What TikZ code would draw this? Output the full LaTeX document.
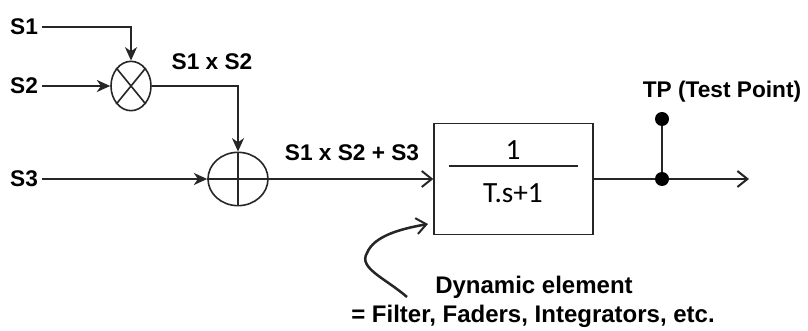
\documentclass[tikz,border=0pt]{standalone}
\usepackage{fontspec}
\setmainfont{Liberation Sans}
\newfontfamily\boxfont{Carlito}
\usetikzlibrary{shapes.geometric,arrows.meta}
\begin{document}
\begin{tikzpicture}[x=0.75pt,y=-0.75pt,
  wire/.style={line width=1.2pt,draw=black!85},
  fa/.style={wire,-{Stealth[length=10pt,width=9pt,inset=3pt]}},
  ba/.style={wire,-{Straight Barb[length=7.5pt,width=12pt,line width=1.5pt]}},
  lbl/.style={font=\bfseries\fontsize{17}{19}\selectfont,inner sep=3pt},
  big/.style={font=\bfseries\fontsize{18}{20}\selectfont,inner sep=2pt},
  circ/.style={ellipse,draw=black!85,line width=1.2pt,inner sep=0pt},
  dotn/.style={circle,fill=black,inner sep=0pt,minimum size=10.5pt}]
\useasboundingbox (0,0) rectangle (808,331);
% inputs
\node[lbl] (s1) at (24,27) {S1};
\node[lbl] (s2) at (24,86) {S2};
\node[lbl] (s3) at (24,179) {S3};
\node[circ,minimum width=30pt,minimum height=37pt] (mul) at (131,86) {};
\draw[wire] (mul.north east) -- (mul.south west) (mul.north west) -- (mul.south east);
\node[circ,minimum width=45pt,minimum height=40pt] (sum) at (238,179) {};
\draw[wire] (sum.west) -- (sum.east) (sum.north) -- (sum.south);
\node[draw=black!85,line width=1.2pt,minimum width=119pt,minimum height=83pt,inner sep=0pt] (blk) at (513.5,179) {};
\coordinate (fl) at (449,166);
\coordinate (fr) at (578,166);
\draw[wire] (fl) -- (fr);
\node[font=\boxfont\fontsize{22}{24}\selectfont] (num) at (513,150) {1};
\node[font=\boxfont\fontsize{22}{24}\selectfont] (den) at (513,193) {T.s+1};
% connections
\draw[fa] (s1.east) -| (mul.north);
\draw[fa] (s2.east) -- (mul.west);
\draw[fa] (mul.east) -| (sum.north);
\draw[fa] (s3.east) -- (sum.west);
\draw[ba] (sum.east) -- (blk.west);
\node[lbl] (l12) at (212,62) {S1 x S2};
\node[lbl] (l123) at (352,153) {S1 x S2 + S3};
% output
\node[dotn] (tpd) at (662,179) {};
\node[dotn] (tpt) at (662,119) {};
\coordinate (oend) at (749,179);
\draw[wire] (blk.east) -- (tpd);
\draw[ba] (tpd) -- (oend);
\draw[wire,line width=1.8pt] (tpd) -- (tpt);
\node[lbl] (tp) at (722,92) {TP (Test Point)};
% annotation
\coordinate (cs) at (407,297);
\coordinate (cm) at (367,253);
\coordinate (ce) at (428,224);
\draw[ba,line width=1.9pt] (cs) .. controls (385,278) and (358,268) .. (cm) .. controls (374,236) and (400,229) .. (ce);
\node[big] (d1) at (534,287) {Dynamic element};
\node[big] (d2) at (533,316) {= Filter, Faders, Integrators, etc.};
\end{tikzpicture}
\end{document}
